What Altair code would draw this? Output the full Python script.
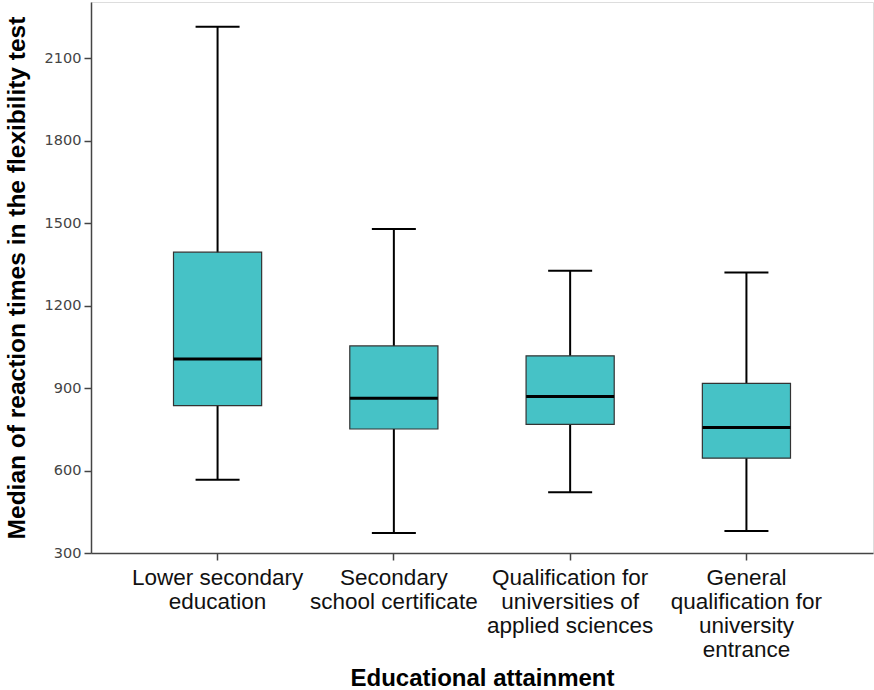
import altair as alt
import pandas as pd

# Educational attainment groups and their label lines under the axis
categories = [
    "Lower secondary education",
    "Secondary school certificate",
    "Qualification for universities of applied sciences",
    "General qualification for university entrance",
]
label_lines = [
    ["Lower secondary", "education"],
    ["Secondary", "school certificate"],
    ["Qualification for", "universities of", "applied sciences"],
    ["General", "qualification for", "university", "entrance"],
]

# Five-number summaries of the median reaction times (ms)
whisker_low = [566, 373, 521, 380]
q1 = [836, 751, 768, 645]
median = [1006, 863, 869, 756]
q3 = [1394, 1053, 1017, 917]
whisker_high = [2214, 1478, 1327, 1320]

y_ticks = [300, 600, 900, 1200, 1500, 1800, 2100]

df = pd.DataFrame({
    "group": categories,
    "lo": whisker_low,
    "q1": q1,
    "med": median,
    "q3": q3,
    "hi": whisker_high,
})

# multi-line axis labels
label_expr = ""
for cat, lines in zip(categories, label_lines):
    arr = "[" + ",".join("'" + s + "'" for s in lines) + "]"
    label_expr += f"datum.value == '{cat}' ? {arr} : "
label_expr += "datum.value"

x_enc = alt.X(
    "group:N",
    sort=categories,
    scale=alt.Scale(paddingInner=0.5, paddingOuter=0.468),
    axis=alt.Axis(
        title="Educational attainment",
        labelAngle=0,
        labelExpr=label_expr,
        labelFont="Liberation Sans",
        labelFontSize=22.5,
        labelColor="#111111",
        labelLineHeight=24,
        labelPadding=6,
        tickSize=7,
        tickWidth=1.5,
        tickColor="#444444",
        domainColor="#444444",
        domainWidth=1.5,
        titleFont="Liberation Sans",
        titleFontSize=24,
        titleFontWeight="bold",
        titleColor="#000000",
        titleY=132,
        titleBaseline="alphabetic",
    ),
)

y_scale = alt.Scale(domain=[300, 2304], nice=False, zero=False)
y_axis = alt.Axis(
    title="Median of reaction times in the flexibility test",
    values=y_ticks,
    format="d",
    grid=False,
    tickSize=7,
    tickWidth=1.5,
    tickColor="#444444",
    domainColor="#444444",
    domainWidth=1.5,
    labelFont="DejaVu Sans",
    labelFontSize=14.5,
    labelColor="#444444",
    labelPadding=3,
    titleFont="Liberation Sans",
    titleFontSize=24.5,
    titleFontWeight="bold",
    titleColor="#000000",
    titleX=-67,
    titleBaseline="alphabetic",
)

base = alt.Chart(df)

whiskers = base.mark_rule(color="#000000", strokeWidth=2).encode(
    x=x_enc,
    y=alt.Y("lo:Q", scale=y_scale, axis=y_axis),
    y2="hi:Q",
)

cap_low = base.mark_tick(color="#000000", size=44, thickness=2, opacity=1).encode(
    x=x_enc, y=alt.Y("lo:Q", scale=y_scale)
)
cap_high = base.mark_tick(color="#000000", size=44, thickness=2, opacity=1).encode(
    x=x_enc, y=alt.Y("hi:Q", scale=y_scale)
)

boxes = base.mark_bar(fill="#46C2C6", stroke="#333333", strokeWidth=1.2, opacity=1).encode(
    x=x_enc,
    y=alt.Y("q1:Q", scale=y_scale),
    y2="q3:Q",
)

medians = base.mark_tick(color="#000000", size=88, thickness=3, opacity=1).encode(
    x=x_enc, y=alt.Y("med:Q", scale=y_scale)
)

chart = (
    alt.layer(whiskers, cap_low, cap_high, boxes, medians)
    .properties(
        width=782,
        height=551,
        autosize=alt.AutoSizeParams(type="none"),
        padding={"left": 91, "top": 2, "right": 1, "bottom": 137},
    )
    .configure_view(stroke="#888888", strokeWidth=2)
    .configure(background="#ffffff")
)

chart.save("out.html", embed_options={"renderer": "svg", "actions": False})
